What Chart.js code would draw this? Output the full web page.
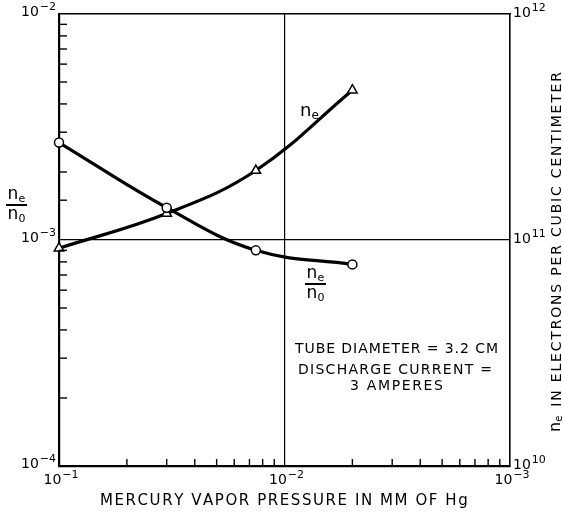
<!DOCTYPE html>
<html>
<head>
<meta charset="utf-8">
<script src="https://cdn.jsdelivr.net/npm/chart.js@4.4.1/dist/chart.umd.min.js"></script>
<style>
html, body { margin: 0; padding: 0; background: #fff; }
</style>
</head>
<body>
<canvas id="myChart" width="562" height="514"></canvas>
<script>
// values
var pressure = [0.1, 0.0333, 0.0134, 0.005];          // mm Hg
var ratioNeN0 = [2.7e-3, 1.39e-3, 9.0e-4, 7.8e-4];    // left axis
var electronDensity = [9.2e10, 1.31e11, 2.03e11, 4.6e11]; // right axis, per cm3

// decade labels: mantissa and exponent
var xTickValues = [1e-1, 1e-2, 1e-3];
var xTickExp = ['−1', '−2', '−3'];
var leftTickValues = [1e-2, 1e-3, 1e-4];
var leftTickExp = ['−2', '−3', '−4'];
var rightTickValues = [1e12, 1e11, 1e10];
var rightTickExp = ['12', '11', '10'];
// the pressure axis has its small ticks at 1/20, 1/30 ... of each decade
var xMinorTicks = [0.05, 0.0333, 0.025, 0.02, 0.0167, 0.0143, 0.0125, 0.0111,
                   0.005, 0.00333, 0.0025, 0.002, 0.00167, 0.00143, 0.00125, 0.00111];

var FONT = 'DejaVu Sans';

function same(a, b) { return Math.abs(Math.log10(a) - Math.log10(b)) < 1e-6; }
function isDecade(v) { var l = Math.log10(v); return Math.abs(l - Math.round(l)) < 1e-6; }

// write text with extra letter spacing so that it fills a given width
function spaced(ctx, text, x, y, width) {
    var plain = ctx.measureText(text).width;
    var gap = (width - plain) / (text.length - 1);
    for (var i = 0; i < text.length; i++) {
        ctx.fillText(text[i], x, y);
        x += ctx.measureText(text[i]).width + gap;
    }
}

// "10" with a raised exponent; align is 'left', 'right' or 'center'
function power(ctx, exp, x, y, align) {
    ctx.font = '14px ' + FONT;
    var wb = ctx.measureText('10').width;
    ctx.font = '11px ' + FONT;
    var we = ctx.measureText(exp).width;
    var w = wb + 1 + we;
    var x0 = align == 'right' ? x - w : (align == 'center' ? x - w / 2 : x);
    ctx.font = '14px ' + FONT;
    ctx.fillText('10', x0, y);
    ctx.font = '11px ' + FONT;
    ctx.fillText(exp, x0 + wb + 1, y - 6);
}

// n with a small subscript, returns width used
function nSub(ctx, sub, x, y, size) {
    ctx.font = size + 'px ' + FONT;
    ctx.fillText('n', x, y);
    var w = ctx.measureText('n').width;
    ctx.font = Math.round(size * 0.65) + 'px ' + FONT;
    ctx.fillText(sub, x + w, y + size * 0.15);
    return w + ctx.measureText(sub).width;
}

function fraction(ctx, cx, lineY, size) {
    ctx.font = size + 'px ' + FONT;
    var w = ctx.measureText('n').width + 6;
    nSub(ctx, 'e', cx - w / 2, lineY - 6, size);
    nSub(ctx, '0', cx - w / 2, lineY + 14, size);
    ctx.fillRect(cx - 10, lineY - 1, 21, 2);
}

var annotations = {
    id: 'annotations',
    afterDraw: function (chart) {
        var ctx = chart.ctx;
        var area = chart.chartArea;
        var x = chart.scales.x, y = chart.scales.y, y2 = chart.scales.y2;
        ctx.save();
        ctx.fillStyle = '#000';
        ctx.strokeStyle = '#000';
        ctx.lineWidth = 1.4;
        ctx.textBaseline = 'alphabetic';

        // inward minor ticks
        xMinorTicks.forEach(function (v) {
            var px = x.getPixelForValue(v);
            ctx.beginPath(); ctx.moveTo(px, area.bottom); ctx.lineTo(px, area.bottom - 7); ctx.stroke();
        });
        y.ticks.forEach(function (t) {
            if (isDecade(t.value)) return;
            var py = y.getPixelForValue(t.value);
            ctx.beginPath(); ctx.moveTo(area.left, py); ctx.lineTo(area.left + 8, py); ctx.stroke();
        });

        // decade labels
        xTickValues.forEach(function (v, i) {
            power(ctx, xTickExp[i], x.getPixelForValue(v) + 2, area.bottom + 18, 'center');
        });
        leftTickValues.forEach(function (v, i) {
            power(ctx, leftTickExp[i], area.left - 3, y.getPixelForValue(v) + 2, 'right');
        });
        rightTickValues.forEach(function (v, i) {
            power(ctx, rightTickExp[i], area.right + 3, y2.getPixelForValue(v) + 3, 'left');
        });

        // left axis title n_e / n_0
        fraction(ctx, 16, 205, 17);

        // curve labels
        nSub(ctx, 'e', 300, 116, 18);
        fraction(ctx, 315, 284, 17);

        // x axis title
        ctx.font = '15px ' + FONT;
        spaced(ctx, 'MERCURY VAPOR PRESSURE IN MM OF Hg', 100, 505, 365);

        // note
        ctx.font = '14px ' + FONT;
        spaced(ctx, 'TUBE DIAMETER = 3.2 CM', 295, 353, 203);
        spaced(ctx, 'DISCHARGE CURRENT =', 298, 374, 194);
        spaced(ctx, '3 AMPERES', 350, 390, 93);

        // right axis title, reading upward
        ctx.translate(561, 432);
        ctx.rotate(-Math.PI / 2);
        var w = nSub(ctx, 'e', 0, -1, 16);
        ctx.font = '14px ' + FONT;
        spaced(ctx, 'IN ELECTRONS PER CUBIC CENTIMETER', w + 9, 0, 360 - w - 9);
        ctx.restore();
    }
};

var ctx = document.getElementById('myChart').getContext('2d');
var myChart = new Chart(ctx, {
    type: 'scatter',
    data: {
        datasets: [{
            label: 'ne/n0',
            data: pressure.map(function (p, i) { return { x: p, y: ratioNeN0[i] }; }),
            xAxisID: 'x',
            yAxisID: 'y',
            showLine: true,
            tension: 0.4,
            borderColor: '#000',
            borderWidth: 3.2,
            pointStyle: 'circle',
            pointRadius: 4.5,
            pointBackgroundColor: '#fff',
            pointBorderColor: '#000',
            pointBorderWidth: 1.5,
            clip: false,
            order: 0
        }, {
            label: 'ne',
            data: pressure.map(function (p, i) { return { x: p, y: electronDensity[i] }; }),
            xAxisID: 'x',
            yAxisID: 'y2',
            showLine: true,
            tension: 0.4,
            borderColor: '#000',
            borderWidth: 3.2,
            pointStyle: 'triangle',
            pointRadius: 5.5,
            pointBackgroundColor: '#fff',
            pointBorderColor: '#000',
            pointBorderWidth: 1.5,
            clip: false,
            order: 1
        }]
    },
    options: {
        responsive: false,
        animation: false,
        layout: { padding: 0 },
        plugins: { legend: { display: false }, tooltip: { enabled: false } },
        scales: {
            x: {
                type: 'logarithmic', position: 'bottom', reverse: true, min: 1e-3, max: 1e-1,
                border: { color: '#000', width: 2.2 },
                grid: {
                    drawTicks: false, lineWidth: 1.2,
                    color: function (c) { return c.tick && same(c.tick.value, 1e-2) ? '#000' : 'rgba(0,0,0,0)'; }
                },
                ticks: { display: false },
                afterFit: function (s) { s.height = 48; }
            },
            x2: {
                type: 'logarithmic', position: 'top', reverse: true, min: 1e-3, max: 1e-1,
                border: { color: '#000', width: 1.6 },
                grid: { display: false },
                ticks: { display: false },
                afterFit: function (s) { s.height = 14; }
            },
            y: {
                type: 'logarithmic', position: 'left', min: 1e-4, max: 1e-2,
                border: { color: '#000', width: 2.2 },
                grid: {
                    drawTicks: false, lineWidth: 1.2,
                    color: function (c) { return c.tick && same(c.tick.value, 1e-3) ? '#000' : 'rgba(0,0,0,0)'; }
                },
                ticks: { display: false },
                afterFit: function (s) { s.width = 59; }
            },
            y2: {
                type: 'logarithmic', position: 'right', min: 1e10, max: 1e12,
                border: { color: '#000', width: 1.6 },
                grid: { drawOnChartArea: false, drawTicks: false },
                ticks: { display: false },
                afterFit: function (s) { s.width = 52; }
            }
        }
    },
    plugins: [annotations]
});
</script>
</body>
</html>
